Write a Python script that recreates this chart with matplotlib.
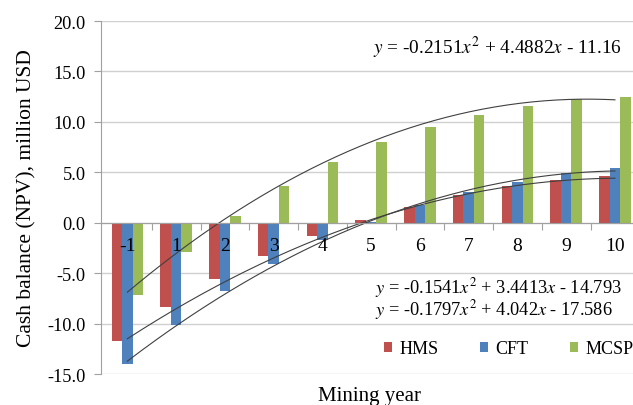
import numpy as np
import matplotlib
matplotlib.use("Agg")
import matplotlib.pyplot as plt

plt.rcParams['font.family'] = ['Liberation Serif', 'DejaVu Serif']

years = ["-1", "1", "2", "3", "4", "5", "6", "7", "8", "9", "10"]
hms = [-11.7, -8.4, -5.6, -3.3, -1.3, 0.3, 1.6, 2.7, 3.6, 4.2, 4.6]
cft = [-14.0, -10.1, -6.8, -4.1, -1.7, 0.1, 1.8, 3.0, 4.0, 4.9, 5.4]
mcsp = [-7.2, -2.9, 0.7, 3.6, 6.0, 8.0, 9.5, 10.7, 11.6, 12.3, 12.5]

# polynomial trendline coefficients (a, b, c) for y = a x^2 + b x + c
trend_mcsp = [-0.2151, 4.4882, -11.16]
trend_hms = [-0.1541, 3.4413, -14.793]
trend_cft = [-0.1797, 4.042, -17.586]

labels = ["HMS", "CFT", "MCSP"]
colors = ["#C0504D", "#4F81BD", "#9BBB59"]

fig = plt.figure(figsize=(6.33, 4.06), dpi=100)
ax = fig.add_axes([101/633, 1 - 375/406, 532/633, (375 - 22)/406])

x = np.arange(len(years))
w = 0.215
for i, (vals, lab, col) in enumerate(zip([hms, cft, mcsp], labels, colors)):
    ax.bar(x + (i - 1) * w, vals, width=w, color=col, label=lab, zorder=3)

t = np.linspace(1, len(years), 200)
for a, b, c in [trend_mcsp, trend_hms, trend_cft]:
    ax.plot(t - 1, a * t**2 + b * t + c, color="#404040", lw=0.8, zorder=4)

ax.set_xlim(-0.541, 10.37)
ax.set_ylim(-15, 20)
yt = np.arange(-15, 20.1, 5)
ax.set_yticks(yt)
ax.set_yticklabels([f"{v:.1f}" for v in yt], fontsize=13.2)
ax.yaxis.grid(True, color="#D0D0D0", lw=1.0, zorder=0)
ax.set_axisbelow(True)

for s in ["top", "right"]:
    ax.spines[s].set_visible(False)
ax.spines["left"].set_color("#A0A0A0")
ax.spines["bottom"].set_position(("data", 0))
ax.spines["bottom"].set_color("#A0A0A0")
ax.spines["bottom"].set_zorder(5)

ax.set_xticks(np.arange(0.5, len(years) - 1, 1))
ax.set_xticklabels([])
ax.tick_params(axis="x", length=5, color="#A0A0A0", direction="out")
ax.tick_params(axis="y", length=5, color="#A0A0A0", direction="out", pad=6)
for xi, lab in zip(x, years):
    ax.text(xi, -2.3, lab, ha="center", va="center", fontsize=14, zorder=6)

ax.set_ylabel("Cash balance (NPV), million USD", fontsize=15.5, labelpad=8)
fig.text(370/633, 1 - 401/406, "Mining year", ha="center", va="baseline", fontsize=15)

eq_kw = dict(transform=ax.transAxes, va="center", math_fontfamily="stix")
ax.text(0.512, 0.926, r"$y$ = -0.2151$x^2$ + 4.4882$x$ - 11.16", ha="left",
        fontsize=13.9, **eq_kw)
ax.text(0.515, 0.246, r"$y$ = -0.1541$x^2$ + 3.4413$x$ - 14.793", ha="left",
        fontsize=13.2, **eq_kw)
ax.text(0.515, 0.184, r"$y$ = -0.1797$x^2$ + 4.042$x$ - 17.586", ha="left",
        fontsize=13.2, **eq_kw)

ax.legend(loc="center", bbox_to_anchor=(0.766, 0.071), ncol=3, frameon=False,
          fontsize=13, handlelength=0.45, handleheight=0.45, handletextpad=0.4,
          columnspacing=2.3, borderpad=0)

fig.savefig("out.png", dpi=100)
